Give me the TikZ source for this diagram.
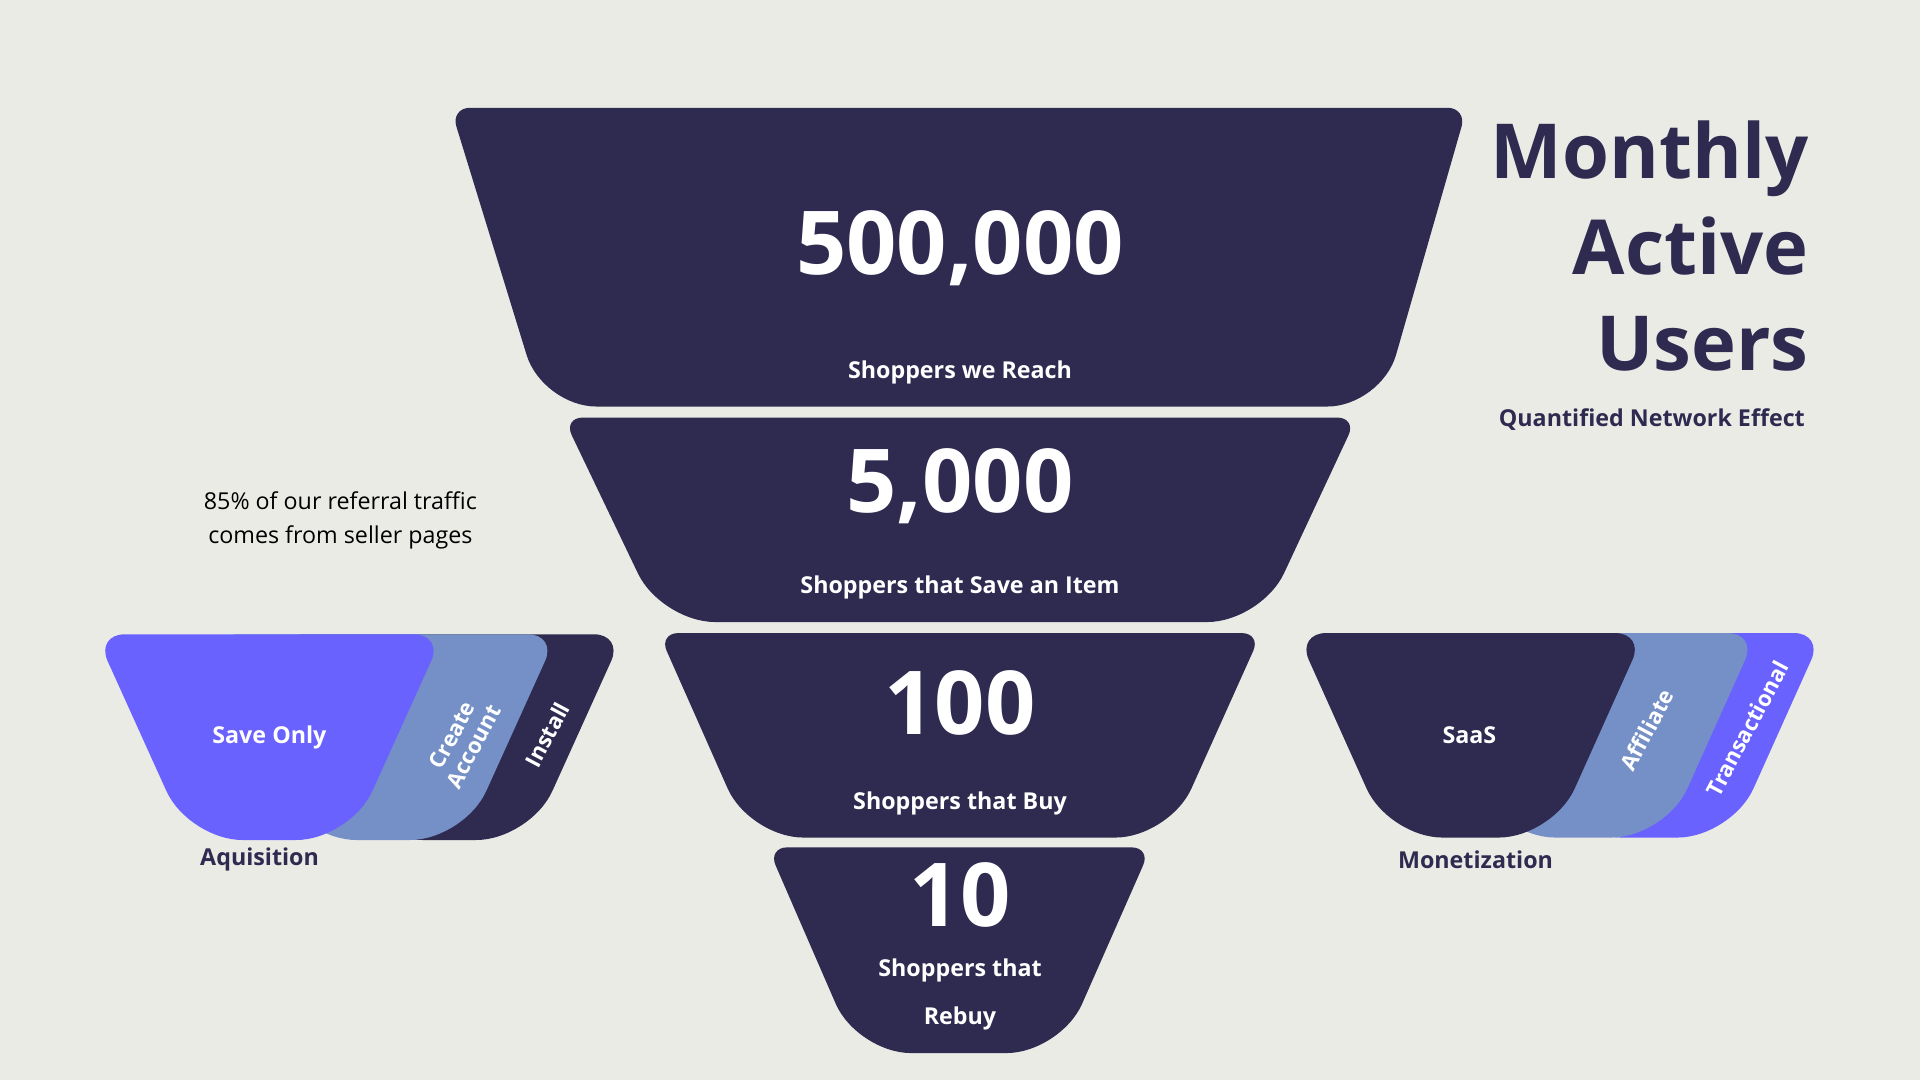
\documentclass[tikz,border=0pt]{standalone}
\usepackage{fontspec}
\setmainfont{Open Sans}
\begin{document}
\definecolor{bg}{HTML}{EBEBE6}
\definecolor{dk}{HTML}{2E2A50}
\definecolor{pu}{HTML}{6962FF}
\definecolor{lb}{HTML}{7590C6}
\begin{tikzpicture}[x=0.5pt,y=-0.5pt,
  big/.style={text=white,font=\fontsize{36}{40}\selectfont\bfseries},
  lab/.style={text=white,font=\fontsize{9.5}{12}\selectfont\bfseries},
  rot/.style={text=white,font=\fontsize{9}{10}\selectfont\bfseries,rotate=62,align=center},
  side/.style={text=dk,font=\fontsize{9.5}{12}\selectfont\bfseries}]
\fill[bg] (0,0) rectangle (1568,882);
\useasboundingbox (0,0) rectangle (1568,882);
% funnel
\fill[dk,rounded corners=8] (368,88) -- (1198,88) [rounded corners=22] -- (1128,332) -- (443,332) [rounded corners=8] -- cycle;
\fill[dk,rounded corners=8] (460,341) -- (1108,341) [rounded corners=22] -- (1030,508) -- (540,508) [rounded corners=8] -- cycle;
\fill[dk,rounded corners=8] (538,517) -- (1030,517) [rounded corners=22] -- (955,684) -- (612,684) [rounded corners=8] -- cycle;
\fill[dk,rounded corners=8] (627,692) -- (940,692) [rounded corners=22] -- (866,860) -- (700,860) [rounded corners=8] -- cycle;
\node[big] (n1) at (784,203) {500,000};
\node[lab] (l1) at (784,304) {Shoppers we Reach};
\node[big] (n2) at (784,397) {5,000};
\node[lab] (l2) at (784,480) {Shoppers that Save an Item};
\node[big] (n3) at (784,574) {100};
\node[lab] (l3) at (784,656) {Shoppers that Buy};
\node[big] (n4) at (784,731) {10};
\node[lab,align=center,font=\fontsize{9.5}{19.5}\selectfont\bfseries] (l4) at (784,812) {Shoppers that\\Rebuy};
% left group
\foreach \s/\c in {147/dk,93/lb,0/pu}{
 \fill[\c,rounded corners=12] (78+\s,518) -- (362+\s,518) [rounded corners=22] -- (286+\s,686) -- (154+\s,686) [rounded corners=12] -- cycle;}
\node[lab] (so) at (220,602) {Save Only};
\node[rot] (ca) at (378,605) {Create\\Account};
\node[rot] (in) at (447,600) {Install};
\node[side] (aq) at (212,702) {Aquisition};
\node[text=black,font=\fontsize{9.5}{13.5}\selectfont,align=center] (ref) at (278,425) {85\% of our referral traffic\\comes from seller pages};
% right group
\foreach \s/\c in {146/pu,92/lb,0/dk}{
 \fill[\c,rounded corners=12] (1059+\s,517) -- (1343+\s,517) [rounded corners=22] -- (1268+\s,684) -- (1134+\s,684) [rounded corners=12] -- cycle;}
\node[lab] (sa) at (1200,600) {SaaS};
\node[rot] (af) at (1345,596) {Affiliate};
\node[rot] (tr) at (1427,595) {Transactional};
\node[side] (mo) at (1205,702) {Monetization};
% title
\node[text=dk,font=\fontsize{31}{39}\selectfont\bfseries,align=right,anchor=north east] (t) at (1484,92) {Monthly\\Active\\Users};
\node[side,anchor=east] (q) at (1481,343) {Quantified Network Effect};
\end{tikzpicture}
\end{document}
